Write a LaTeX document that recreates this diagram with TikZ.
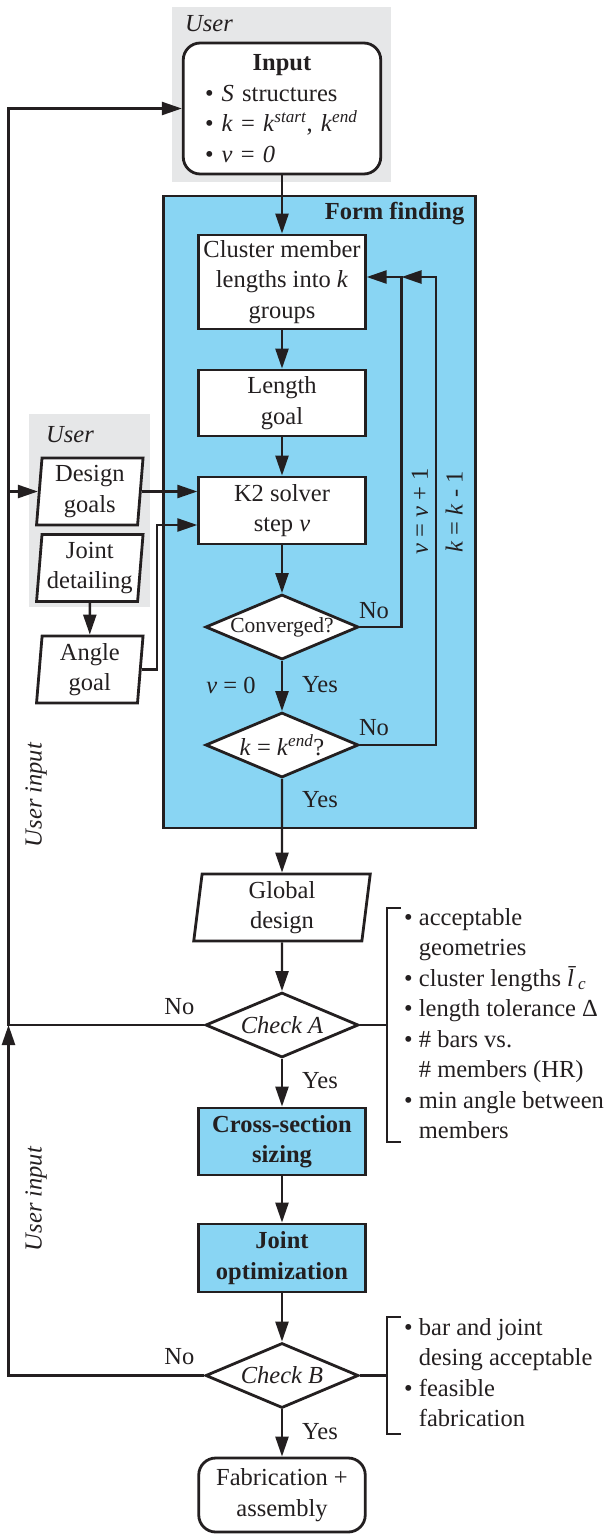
\documentclass[tikz,border=0pt]{standalone}
\usepackage{fontspec}
\setmainfont{Liberation Serif}
\usepackage{tikz}
\usetikzlibrary{positioning, arrows.meta, shapes.geometric, calc}

\definecolor{ink}{RGB}{35,31,32}
\definecolor{ffblue}{RGB}{137,213,243}
\definecolor{usergray}{RGB}{230,231,232}

\newcommand{\flowfont}{\fontsize{24.5}{30.5}\selectfont}

\begin{document}
\begin{tikzpicture}[
    x=1pt, y=-1pt,
    every node/.style={font=\flowfont, text=ink},
    block/.style={rectangle, draw=ink, fill=white, line width=2.8pt, minimum width=166.5pt,
                  minimum height=66pt, inner sep=0pt, align=center},
    hblock/.style={block, fill=ffblue, font=\flowfont\bfseries},
    term/.style={block, rounded corners=17pt},
    check/.style={diamond, aspect=2.35, draw=ink, fill=white, line width=2.8pt, minimum width=153pt,
                  minimum height=65pt, inner sep=0pt},
    data/.style={trapezium, trapezium stretches body, draw=ink, fill=white, line width=2.8pt,
                 minimum height=67pt, inner sep=0pt, align=center},
    group/.style={rectangle, fill=usergray, inner sep=0pt},
    arrow/.style={-{Triangle[length=20pt, width=13pt]}, line width=2.4pt, draw=ink},
    line/.style={line width=2.4pt, draw=ink},
    label/.style={inner sep=0pt},
    ulabel/.style={inner sep=0pt, font=\flowfont\itshape}
]
    \useasboundingbox (0,0) rectangle (611,1534);

    % User groups
    \node[group, minimum width=219pt, minimum height=175pt] (usertop) at (281.5, 94.5) {};
    \node[ulabel, anchor=west] (usertoptxt) at (185, 24) {User};
    \node[group, minimum width=121pt, minimum height=193pt] (userleft) at (89.6, 510.5) {};
    \node[ulabel, anchor=west] (userlefttxt) at (46, 435) {User};

    % Form finding frame
    \node[rectangle, draw=ink, fill=ffblue, line width=2.8pt, minimum width=311.5pt,
          minimum height=632pt] (ff) at (319.5, 512) {};
    \node[label, anchor=east, font=\flowfont\bfseries] (fftxt) at (464.5, 214) {Form finding};

    % Input
    \node[term, minimum width=197.5pt, minimum height=131pt, text width=154pt, align=left] (input) at (282, 108.5)
        {\makebox[154pt]{\textbf{Input}}\\
         \textbullet\ \textit{S} structures\\
         \textbullet\ \textit{k} = \textit{k}\textsuperscript{\textit{start}}, \textit{k}\textsuperscript{\textit{end}}\\
         \textbullet\ \textit{v} = \textit{0}};

    % Form finding steps
    \node[block, minimum height=94pt] (cluster) at (282, 282) {Cluster member\\lengths into \textit{k}\\groups};
    \node[block] (length) at (282, 403) {Length\\goal};
    \node[block, minimum height=67pt] (solver) at (282, 510.5) {K2 solver\\step \textit{v}};
    \node[check, font=\fontsize{21.5}{30.5}\selectfont] (conv) at (282, 627) {Converged?};
    \node[check] (kend) at (282, 745) {\textit{k} = \textit{k}\textsuperscript{\textit{end}}?};

    % User goals
    \node[data, minimum width=106.5pt, trapezium left angle=84, trapezium right angle=96] (design) at (89.8, 491.5) {Design\\goals};
    \node[data, minimum width=106.5pt, trapezium left angle=84, trapezium right angle=96] (joint) at (89.8, 568) {Joint\\detailing};
    \node[data, minimum width=106.5pt, trapezium left angle=84, trapezium right angle=96] (angle) at (89.8, 669.5) {Angle\\goal};

    % Downstream
    \node[data, minimum width=176.5pt, trapezium left angle=81, trapezium right angle=99] (global) at (282, 907.5) {Global\\design};
    \node[check] (checkA) at (282, 1025) {\textit{Check A}};
    \node[hblock, minimum height=67pt] (cross) at (282, 1141.5) {Cross-section\\sizing};
    \node[hblock, minimum height=68pt] (jopt) at (282, 1258) {Joint\\optimization};
    \node[check] (checkB) at (282, 1375.5) {\textit{Check B}};
    \node[term, minimum height=74pt] (fab) at (282, 1495) {Fabrication +\\assembly};

    % Main flow
    \draw[arrow] (input) -- (cluster);
    \draw[arrow] (cluster) -- (length);
    \draw[arrow] (length) -- (solver);
    \draw[arrow] (solver) -- (conv);
    \draw[arrow] (conv) -- (kend);
    \draw[arrow] (kend) -- (global);
    \draw[arrow] (global) -- (checkA);
    \draw[arrow] (checkA) -- (cross);
    \draw[arrow] (cross) -- (jopt);
    \draw[arrow] (jopt) -- (checkB);
    \draw[arrow] (checkB) -- (fab);
    \draw[arrow] (joint) -- (angle);

    % Loops
    \coordinate (vloop) at (401.5, 277);
    \coordinate (kloop) at (436, 277);
    \draw[arrow] (conv.east) -| (vloop) -- (vloop -| cluster.east);
    \draw[arrow] (kend.east) -| (kloop) -- (vloop);
    \node[label, rotate=90] (vinc) at (420, 511) {\textit{v} = \textit{v} + 1};
    \node[label, rotate=90] (kdec) at (454, 512) {\textit{k} = \textit{k} - 1};
    \node[label] (noconv) at (374, 611) {No};
    \node[label] (nokend) at (374, 728) {No};
    \node[label] (vzero) at (231, 685) {\textit{v} = 0};
    \node[label] (yesconv) at (320, 685) {Yes};
    \node[label] (yeskend) at (320, 800) {Yes};

    % Goals into solver
    \coordinate (angleknee) at (157, 525);
    \draw[arrow] (design.east) -- (design.east -| solver.west);
    \draw[arrow] (angle.east) -| (angleknee) -- (angleknee -| solver.west);

    % Feedback
    \coordinate (fb) at (8.5, 1025);
    \draw[arrow] (checkA.west) -- (fb) |- (input.west);
    \draw[arrow] (fb |- design.west) -- (design.west);
    \draw[arrow] (checkB.west) -| (fb);
    \node[label] (noA) at (179.3, 1007) {No};
    \node[label] (noB) at (179.3, 1357) {No};
    \node[label] (yesA) at (320, 1081) {Yes};
    \node[label] (yesB) at (320, 1432) {Yes};
    \node[ulabel, rotate=90] (uinA) at (36, 795) {User input};
    \node[ulabel, rotate=90] (uinB) at (36, 1199) {User input};

    % Criteria
    \draw[line] (checkA.east) -- (387, 1025);
    \draw[line] (401, 908) -- (387, 908) -- (387, 1142) -- (401, 1142);
    \node[label, anchor=west, align=left] (critA) at (404, 1023.5)
        {\textbullet\ acceptable\\
         \phantom{\textbullet\ }geometries\\
         \textbullet\ cluster lengths \textit{\={l}}\textsubscript{\kern-2pt\textit{c}}\\
         \textbullet\ length tolerance Δ\\
         \textbullet\ \# bars vs.\\
         \phantom{\textbullet\ }\# members (HR)\\
         \textbullet\ min angle between\\
         \phantom{\textbullet\ }members};
    \draw[line] (checkB.east) -- (387, 1375.5);
    \draw[line] (401, 1317) -- (387, 1317) -- (387, 1434) -- (401, 1434);
    \node[label, anchor=west, align=left] (critB) at (404, 1372.5)
        {\textbullet\ bar and joint\\
         \phantom{\textbullet\ }desing acceptable\\
         \textbullet\ feasible\\
         \phantom{\textbullet\ }fabrication};

\end{tikzpicture}
\end{document}
